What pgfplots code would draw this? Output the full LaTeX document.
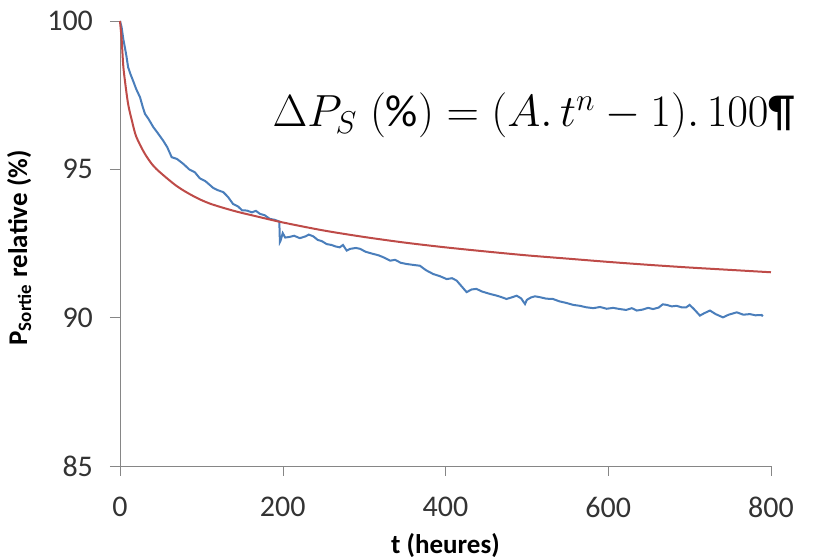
\documentclass[border=0pt]{standalone}
\usepackage{fix-cm}
\usepackage{fontspec}
\setmainfont{Carlito}
\usepackage{pgfplots}
\pgfplotsset{compat=1.18}
\definecolor{mesure}{RGB}{74,126,187}
\definecolor{modele}{RGB}{190,75,72}
\definecolor{axe}{RGB}{134,134,134}

\begin{document}
\begin{tikzpicture}
\useasboundingbox (-60pt,-45.5pt) rectangle (353.5pt,233pt);
\begin{axis}[
    scale only axis,
    width=325.5pt,
    height=222.5pt,
    xmin=0, xmax=800,
    ymin=85, ymax=100,
    xtick={0,200,...,800},
    ytick={85,90,95,100},
    axis x line*=bottom,
    axis y line*=left,
    axis line style={axe,-},
    tick style={axe},
    tick align=outside,
    major tick length=5pt,
    tick label style={font=\fontsize{15}{17}\selectfont,text=black!80},
    xticklabel style={yshift=-7pt},
    yticklabel style={xshift=-5pt},
    /pgf/number format/assume math mode=true,
    xlabel={\textbf{t (heures)}},
    ylabel={\textbf{P\textsubscript{Sortie} relative (\%)}},
    label style={font=\fontsize{13.5}{16}\selectfont},
    xlabel style={at={(axis description cs:0.5,-0.178)},anchor=center},
    ylabel style={at={(axis description cs:-0.155,0.49)},anchor=center},
    clip=false,
]
\addplot[mesure,line width=1pt] coordinates {
(0,100.0) (2,99.79) (4,99.4) (6,99.11) (8,98.8) (10,98.44) (13,98.2) (16,97.99)
(20,97.7) (24.6,97.43) (28,97.1) (30.7,96.87) (35,96.7) (41,96.42) (47,96.2)
(53,95.97) (58,95.75) (63.5,95.41) (70,95.35) (78,95.18) (85,95.0) (92,94.9)
(98,94.7) (105,94.6) (114.7,94.37) (120,94.3) (127,94.23) (132.7,94.07)
(139,93.83) (145,93.75) (150,93.62) (156,93.61) (162,93.55) (167,93.6)
(172,93.50) (178,93.45) (184,93.33) (190,93.30) (195.8,93.24) (196.5,92.55)
(197.4,92.60) (200,92.85) (203,92.7) (208,92.72) (214,92.76) (221,92.68)
(228,92.74) (232,92.80) (237.6,92.74) (243,92.62) (248,92.58) (254,92.48)
(260,92.45) (265,92.40) (270,92.37) (274,92.45) (278.6,92.26) (283,92.32)
(290,92.35) (295,92.32) (302,92.22) (311,92.15) (318,92.10) (325,92.02)
(332,91.92) (338,91.95) (345,91.85) (352,91.81) (360,91.78) (368.6,91.75)
(376,91.60) (385,91.47) (393,91.40) (401.5,91.30) (408,91.33) (413.7,91.25)
(420,91.05) (426,90.86) (432,90.95) (438,90.97) (445,90.88) (454.7,90.80)
(462,90.75) (468,90.70) (475,90.63) (481,90.68) (487.5,90.74) (493,90.65)
(497.7,90.46) (500,90.60) (505,90.68) (510,90.72) (516,90.69) (524,90.64)
(532,90.63) (540,90.55) (548,90.50) (557,90.43) (565,90.40) (573,90.35)
(581.6,90.32) (590,90.36) (598,90.30) (606,90.33) (614.4,90.29) (622,90.26)
(629,90.32) (635,90.24) (642,90.27) (649,90.33) (655,90.29) (662,90.34)
(667,90.45) (672,90.43) (678,90.38) (684,90.40) (690,90.35) (696,90.35)
(700,90.43) (705,90.30) (712.7,90.07) (718,90.15) (725,90.24) (732,90.12)
(741,90.01) (748,90.10) (758,90.18) (766,90.10) (774,90.12) (781,90.08)
(788.5,90.09) (790,90.05)
};
\addplot[modele,line width=1pt,smooth] coordinates {
(0,100) (1,99.7) (2,99.4) (4,98.5) (6,98.0) (10,97.2) (15,96.6) (20,96.1)
(30,95.55) (40,95.15) (50,94.88) (70,94.43) (90,94.1) (110,93.85) (140,93.6)
(170,93.4) (200,93.21) (250,92.94) (300,92.72) (350,92.53) (400,92.37)
(450,92.23) (500,92.10) (550,91.99) (600,91.88) (650,91.78) (700,91.69)
(750,91.61) (800,91.53)
};
\node[anchor=base west,inner sep=0pt,font=\fontsize{22.5}{26}\selectfont]
  at (axis cs:187,96.43) {$\Delta P_{S}\;(\%) = (A.\,t^{n} - 1).\,100$\P};
\end{axis}
\end{tikzpicture}
\end{document}
